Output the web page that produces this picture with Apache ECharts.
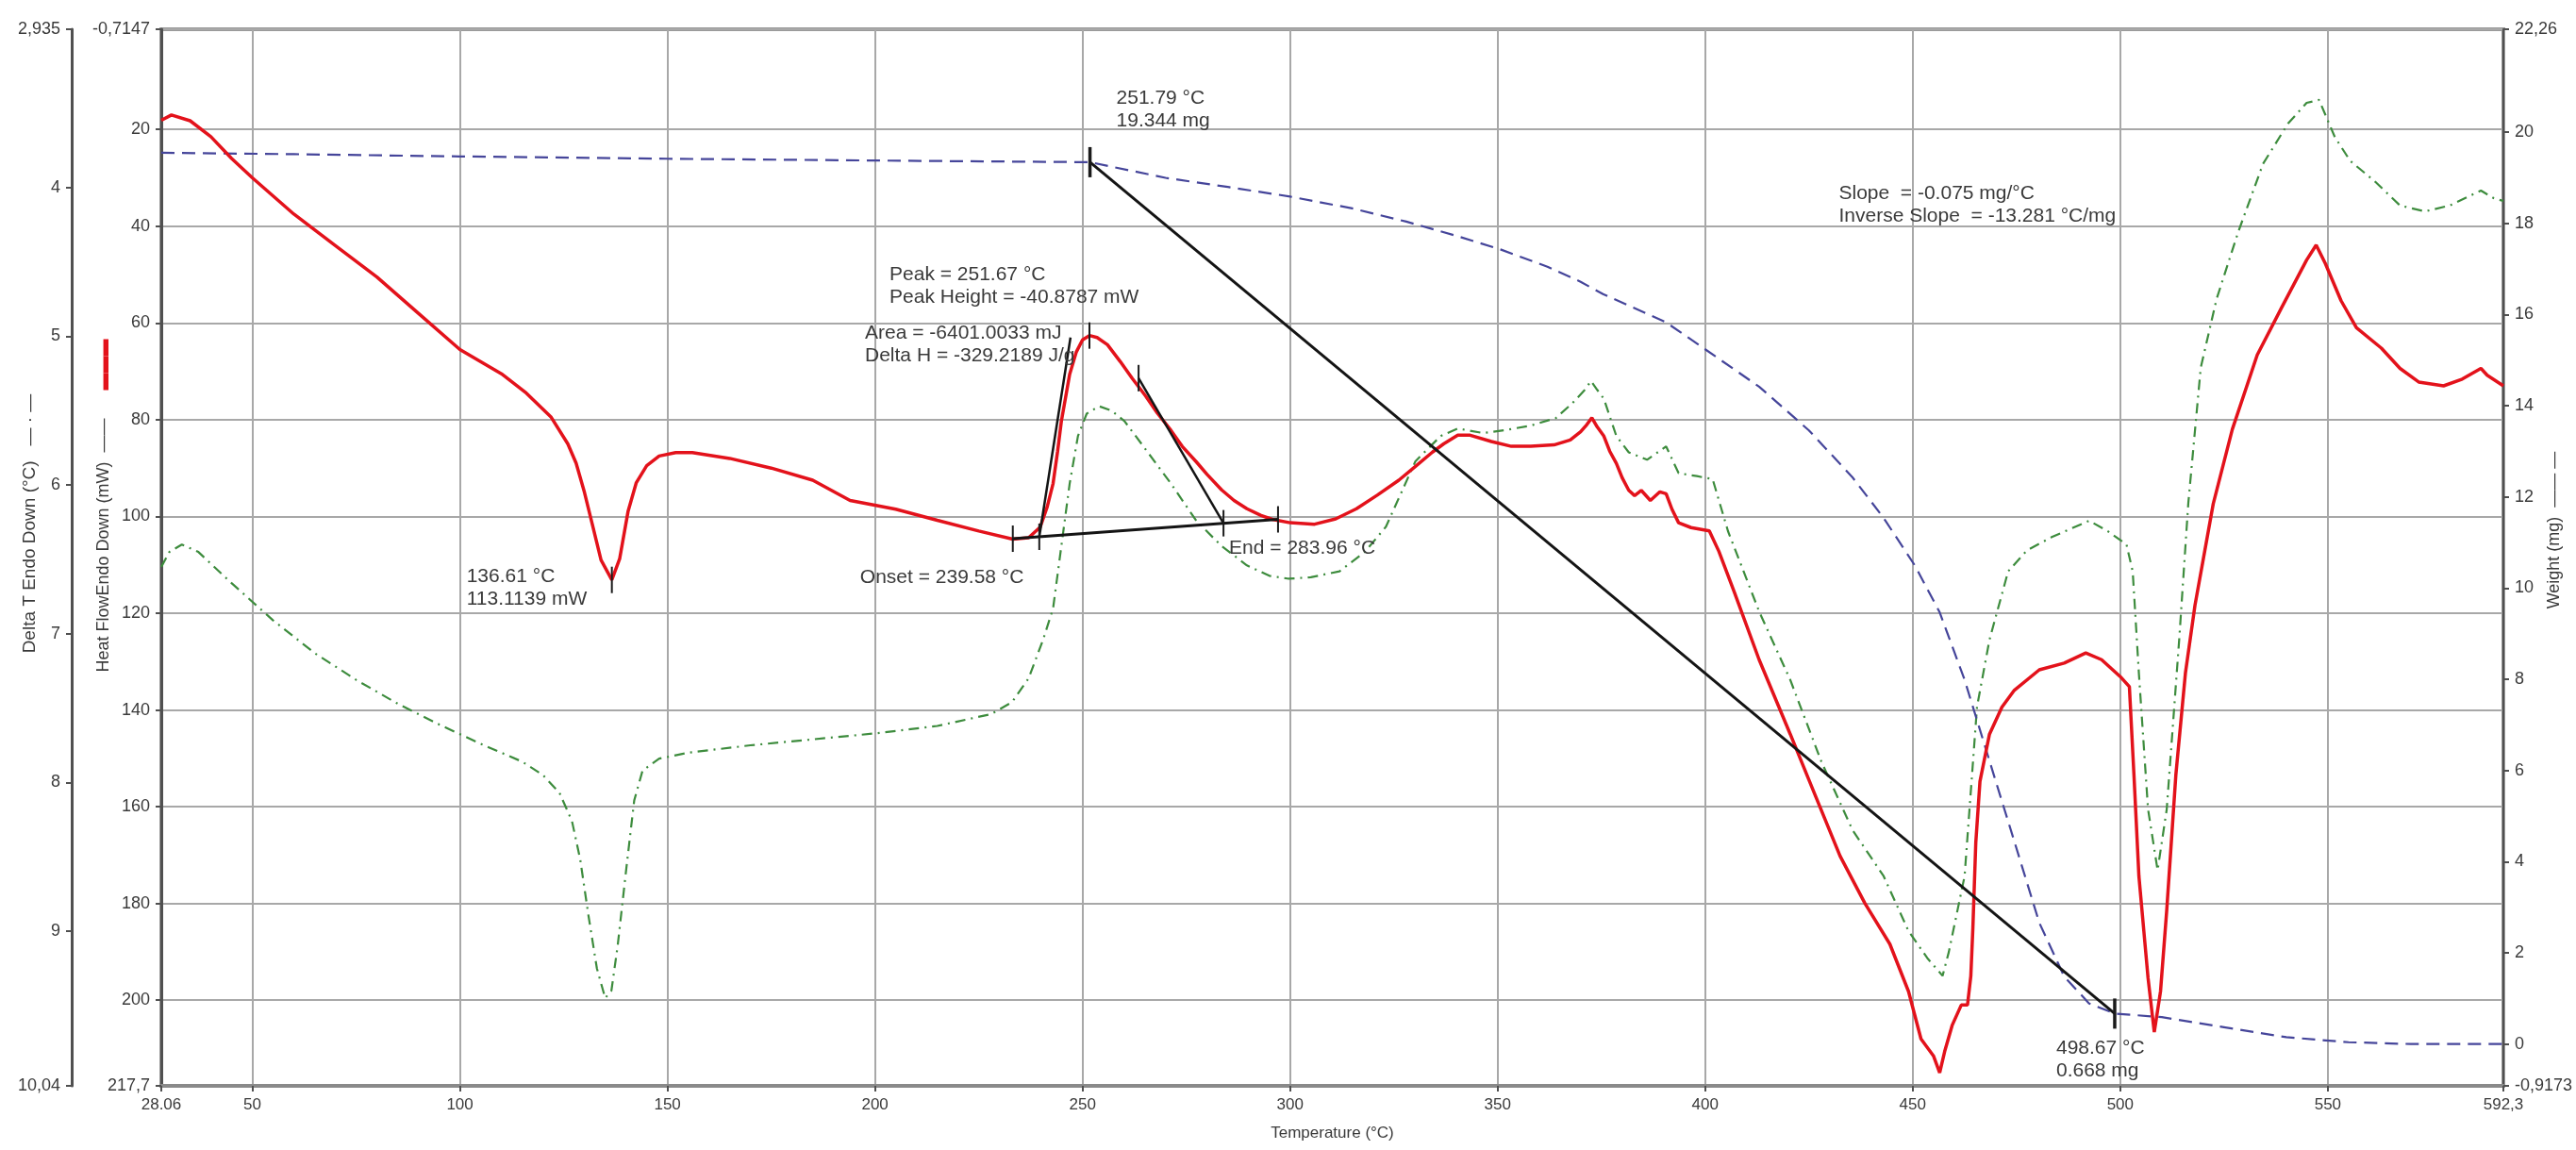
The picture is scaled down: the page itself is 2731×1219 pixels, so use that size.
<!DOCTYPE html>
<html>
<head>
<meta charset="utf-8">
<script src="https://cdn.jsdelivr.net/npm/echarts@6/dist/echarts.min.js"></script>
<style>
html,body{margin:0;padding:0;background:#fff;}
#chart{width:2731px;height:1219px;}
</style>
</head>
<body>
<div id="chart"></div>
<script>
// ---------- axis ranges / tick values / tick labels ----------
const xRange = [28.06, 592.3];
const hfRange = [-0.7147, 217.7];
const dtRange = [2.935, 10.04];
const wRange = [-0.9173, 22.26];
const xTicks = [28.06, 50, 100, 150, 200, 250, 300, 350, 400, 450, 500, 550, 592.3];
const hfTicks = [-0.7147, 20, 40, 60, 80, 100, 120, 140, 160, 180, 200, 217.7];
const dtTicks = [2.935, 4, 5, 6, 7, 8, 9, 10.04];
const wTicks = [-0.9173, 0, 2, 4, 6, 8, 10, 12, 14, 16, 18, 20, 22.26];
const xEndLabels = ['28.06', '592,3'];
const hfEndLabels = ['-0,7147', '217,7'];
const dtEndLabels = ['2,935', '10,04'];
const wEndLabels = ['-0,9173', '22,26'];

// ---------- series: [temperature °C, value] ----------
const heatFlow = [
 [28.06,18.1],[30.5,17.0],[35,18.2],[40,21.5],[45,26],[50,30],[60,37.5],[70,44],[80,50.5],[90,58],
 [100,65.5],[110,70.5],[116,74.5],[122,79.5],[126,85],[128,89],[130,95],[132,102],[134,109],[136.6,113.1],
 [138.5,108.7],[140.5,99],[142.5,93],[145,89.5],[148,87.5],[152,86.8],[156,86.8],[165,88],[175,90],[185,92.5],
 [194,96.7],[205,98.5],[215,100.8],[225,103],[233.2,104.7],[237,104.4],[239.8,102.2],[241.5,98],[242.9,93.2],[244,86.5],
 [244.9,80.3],[246,75],[246.9,70.6],[248.5,66],[250,63.5],[251.67,62.6],[253.5,63],[256,64.5],[259.1,68.0],[262,71.5],
 [265.2,75.1],[268,78.6],[271.3,82.2],[274,85.5],[277.4,88.7],[280,91.3],[283.5,94.5],[286.5,96.7],[289.6,98.4],[293,99.8],
 [295.7,100.6],[300,101.3],[305.9,101.6],[311,100.5],[316,98.4],[321,95.6],[326.2,92.5],[330,89.8],[334.3,86.7],[337,85],
 [340.4,83.2],[343.4,83.2],[348.5,84.5],[353.3,85.5],[358,85.5],[363.6,85.2],[367.5,84.2],[370,82.5],[371.5,81],[372.7,79.6],
 [374,81.5],[375.6,83.4],[377,86.5],[378.6,89],[380,92],[381.6,94.6],[383,95.7],[384.6,94.6],[386.8,96.7],[389.1,94.9],
 [390.6,95.3],[392,98.5],[393.6,101.3],[396.6,102.3],[401,103],[403.3,107.2],[407,115.6],[413,129.6],[420.5,145],[426.5,157.6],
 [432.5,170.2],[438.5,180],[444.5,188.4],[449,198.2],[452,208],[455,211.5],[456.5,215],[457.7,210.6],[459.5,205.2],[461.7,201],
 [463.2,201],[464,195],[464.5,185],[465.2,167.4],[466.2,154.8],[468.5,145],[471.5,139.4],[474.5,135.9],[480.5,131.7],[486.5,130.3],
 [491.7,128.2],[495.5,129.6],[500,133.1],[502.2,135.2],[503.3,153.4],[504.5,174.4],[506.7,195.4],[508.2,206.6],[509.7,198.2],[511.2,181.4],
 [513.4,153.4],[515.7,132.4],[518,118.4],[522.4,97.4],[527,82],[533,66.6],[538.9,56.8],[544.9,47],[547.2,43.9],[549.4,47.7],
 [553.2,55.4],[556.9,61],[562.9,65.2],[567.4,69.4],[571.9,72.2],[577.9,73],[582.4,71.6],[586.9,69.4],[588.4,70.8],[592.3,73]
];

const deltaT = [
 [28.06,6.55],[30,6.45],[33,6.40],[37,6.45],[45,6.66],[55,6.91],[65,7.13],[75,7.31],[85,7.47],[95,7.61],
 [105,7.74],[115,7.86],[120,7.95],[124,8.07],[127,8.26],[129,8.52],[131,8.9],[133,9.25],[135,9.45],[136.5,9.4],
 [138,9.1],[140,8.6],[142,8.12],[144,7.92],[148,7.84],[155,7.8],[170,7.75],[185,7.71],[200,7.67],[215,7.62],
 [228,7.54],[233,7.46],[237,7.3],[240.5,7.04],[242.9,6.83],[244.9,6.41],[246.9,5.99],[248.9,5.67],[251,5.52],[254,5.47],
 [257,5.5],[260.1,5.57],[265.2,5.76],[271.3,5.99],[277.4,6.24],[283.5,6.41],[289.6,6.54],[295,6.61],[299.7,6.63],[305,6.62],
 [311.9,6.58],[318,6.45],[323.1,6.28],[326,6.1],[330.2,5.84],[336.3,5.67],[340.4,5.62],[346.5,5.65],[352,5.63],[358,5.6],
 [364,5.55],[368,5.45],[371,5.36],[372.5,5.3],[374,5.36],[375.6,5.42],[378.6,5.67],[381.6,5.78],[386,5.83],[390.6,5.74],
 [393.6,5.92],[398,5.94],[401.8,5.96],[405.5,6.31],[413,6.85],[420.5,7.31],[428,7.86],[435.5,8.32],[443,8.63],[449,9.0],
 [453.5,9.18],[457.2,9.30],[458.7,9.14],[462.5,8.63],[465.5,7.49],[468.5,7.04],[473,6.58],[477.5,6.44],[483.5,6.35],[492.5,6.24],
 [497,6.31],[501.5,6.40],[503,6.58],[504.5,7.27],[506.7,8.18],[509,8.59],[511.2,8.18],[514.2,7.04],[516.4,6.12],[519.4,5.21],
 [523.2,4.75],[528.4,4.30],[534.4,3.84],[540.4,3.57],[544.9,3.43],[547.9,3.41],[551.7,3.66],[555.4,3.82],[561.4,3.96],[567.4,4.12],
 [573.4,4.16],[579.4,4.12],[586.9,4.02],[589.9,4.07],[592.3,4.09]
];

const weight = [
 [28.06,19.55],[60,19.52],[100,19.47],[150,19.42],[200,19.38],[251.79,19.344],[270,19.0],[285,18.8],[300,18.59],[315,18.33],
 [328,18.04],[340,17.73],[351,17.42],[362,17.05],[370,16.72],[375.4,16.45],[390.6,15.83],[400,15.24],[413,14.42],[425,13.46],
 [435.5,12.43],[443,11.54],[450.5,10.50],[456.5,9.47],[462.5,7.99],[468.5,6.21],[474.5,4.44],[480.5,2.66],[486.5,1.48],[492.5,0.89],
 [498.67,0.668],[510,0.59],[525,0.37],[540,0.15],[555,0.04],[570,0],[592.3,0]
];

// analysis constructions
const weightStep = [[251.79,19.344],[498.67,0.668]];
const peakBaseline = [[233.2,104.6],[297.1,100.6]];
const onsetTangent = [[239.58,104.2],[247.1,63.0]];
const endTangent = [[263.5,71.4],[283.96,101.4]];
const hfMarkers = [[233.2,104.6],[239.58,104.2],[251.67,62.6],[263.5,71.4],[283.96,101.4],[297.1,100.6],[136.61,113.1139]];
const wMarkers = [[251.79,19.344],[498.67,0.668]];

// annotation anchors (value) and texts
const hfNotes = [
 [136.61,113.1139,'136.61 °C\n113.1139 mW'],
 [251.67,62.3,'Peak = 251.67 °C\nPeak Height = -40.8787 mW'],
 [251.67,62.3,'Area = -6401.0033 mJ\nDelta H = -329.2189 J/g'],
 [239.58,104.2,'Onset = 239.58 °C'],
 [283.96,101.4,'End = 283.96 °C']
];
const wNotes = [
 [251.79,19.344,'251.79 °C\n19.344 mg'],
 [498.67,0.668,'498.67 °C\n0.668 mg'],
 [432.2,18.83,'Slope  = -0.075 mg/°C\nInverse Slope  = -13.281 °C/mg']
];
// pixel offsets of the annotation text boxes (style, not data)
const hfNoteOffsets = [[-154,-15],[-212,-75],[-238,-13],[-190,31],[6,15]];
const wNoteOffsets = [[28,-80],[-62,25],[0,-4]];

const FONT = '"Liberation Sans", Arial, sans-serif';
const TXT = '#3a3a3a';

function endFmt(range, labels) {
  return function (v) {
    if (Math.abs(v - range[0]) < 1e-6) return labels[0];
    if (Math.abs(v - range[1]) < 1e-6) return labels[1];
    return String(Math.round(v));
  };
}

function tickRenderer(half, width) {
  return function (params, api) {
    const p = api.coord([api.value(0), api.value(1)]);
    return {type:'line', shape:{x1:p[0], y1:p[1]-half, x2:p[0], y2:p[1]+half},
            style:{stroke:'#1a1a1a', lineWidth:width}};
  };
}
function noteRenderer(notes, offsets) {
  return function (params, api) {
    const i = params.dataIndex;
    const p = api.coord([api.value(0), api.value(1)]);
    return {type:'text', x:p[0]+offsets[i][0], y:p[1]+offsets[i][1],
      style:{text:notes[i][2], fill:TXT, fontSize:21, fontFamily:FONT, lineHeight:24, verticalAlign:'top', align:'left'}};
  };
}

const axisLineStyle = {color:'#505050', width:3};
const tickStyle = {show:true, length:6, lineStyle:{color:'#505050', width:2}};

const chart = echarts.init(document.getElementById('chart'), null, {renderer:'canvas'});
chart.setOption({
  animation:false,
  backgroundColor:'#ffffff',
  grid:{left:171, right:77, top:31, bottom:68, containLabel:false, outerBoundsMode:'none',
        show:true, borderColor:'#9a9a9a', borderWidth:4, backgroundColor:'#ffffff'},
  xAxis:{
    type:'value', min:xRange[0], max:xRange[1],
    name:'Temperature (°C)', nameLocation:'middle', nameGap:42, nameMoveOverlap:false,
    nameTextStyle:{fontFamily:FONT, fontSize:17, color:TXT},
    axisLine:{onZero:false, lineStyle:{color:'#8a8a8a', width:4}},
    axisTick:Object.assign({customValues:xTicks}, tickStyle),
    axisLabel:{customValues:xTicks, formatter:endFmt(xRange, xEndLabels), fontFamily:FONT, fontSize:17, color:TXT, margin:12},
    splitLine:{show:true, lineStyle:{color:'#a8a8a8', width:2}}
  },
  yAxis:[
    { // Heat flow
      type:'value', inverse:true, min:hfRange[0], max:hfRange[1], position:'left',
      name:'{b|Heat FlowEndo Down (mW)  ——}      {r|▬▬▬}', nameLocation:'middle', nameRotate:90, nameGap:52, nameMoveOverlap:false,
      nameTextStyle:{fontFamily:FONT, fontSize:18, color:TXT, padding:[0,0,0,110],
        rich:{b:{fontFamily:FONT, fontSize:18, color:TXT}, r:{fontFamily:FONT, fontSize:18, color:'#e3121b'}}},
      axisLine:{show:true, onZero:false, lineStyle:axisLineStyle},
      axisTick:Object.assign({customValues:hfTicks}, tickStyle),
      axisLabel:{customValues:hfTicks, formatter:endFmt(hfRange, hfEndLabels), fontFamily:FONT, fontSize:18, color:TXT, margin:12},
      splitLine:{show:true, lineStyle:{color:'#a8a8a8', width:2}}
    },
    { // Delta T
      type:'value', inverse:true, min:dtRange[0], max:dtRange[1], position:'left', offset:95,
      name:'Delta T Endo Down (°C)   — · —', nameLocation:'middle', nameRotate:90, nameGap:35, nameMoveOverlap:false,
      nameTextStyle:{fontFamily:FONT, fontSize:19, color:TXT, padding:[0,0,0,72]},
      axisLine:{show:true, onZero:false, lineStyle:axisLineStyle},
      axisTick:Object.assign({customValues:dtTicks}, tickStyle),
      axisLabel:{customValues:dtTicks, formatter:endFmt(dtRange, dtEndLabels), fontFamily:FONT, fontSize:18, color:TXT, margin:12},
      splitLine:{show:false}
    },
    { // Weight
      type:'value', min:wRange[0], max:wRange[1], position:'right',
      name:'Weight (mg)  —— —', nameLocation:'middle', nameRotate:90, nameGap:45, nameMoveOverlap:false,
      nameTextStyle:{fontFamily:FONT, fontSize:18, color:TXT, padding:[0,0,0,58]},
      axisLine:{show:true, onZero:false, lineStyle:{color:'#505050', width:2}},
      axisTick:Object.assign({customValues:wTicks}, tickStyle),
      axisLabel:{customValues:wTicks, formatter:endFmt(wRange, wEndLabels), fontFamily:FONT, fontSize:18, color:TXT, margin:12},
      splitLine:{show:false}
    }
  ],
  series:[
    {name:'Delta T', type:'line', yAxisIndex:1, data:deltaT, showSymbol:false, z:2,
     lineStyle:{color:'#3d8c3d', width:2.2, type:[11,6,2,6]}},
    {name:'Weight', type:'line', yAxisIndex:2, data:weight, showSymbol:false, z:3,
     lineStyle:{color:'#45459a', width:2.2, type:[14,8]}},
    {name:'Heat Flow', type:'line', yAxisIndex:0, data:heatFlow, showSymbol:false, z:4,
     lineStyle:{color:'#e3121b', width:3.5}},
    {name:'Weight step', type:'line', yAxisIndex:2, data:weightStep, showSymbol:false, z:5,
     lineStyle:{color:'#141414', width:3}},
    {name:'Baseline', type:'line', yAxisIndex:0, data:peakBaseline, showSymbol:false, z:5,
     lineStyle:{color:'#141414', width:3}},
    {name:'Onset tangent', type:'line', yAxisIndex:0, data:onsetTangent, showSymbol:false, z:5,
     lineStyle:{color:'#141414', width:2.5}},
    {name:'End tangent', type:'line', yAxisIndex:0, data:endTangent, showSymbol:false, z:5,
     lineStyle:{color:'#141414', width:2.5}},
    {name:'HF ticks', type:'custom', yAxisIndex:0, data:hfMarkers, z:6, renderItem:tickRenderer(14, 2)},
    {name:'W ticks', type:'custom', yAxisIndex:2, data:wMarkers, z:6, renderItem:tickRenderer(16, 3.5)},
    {name:'HF notes', type:'custom', yAxisIndex:0, data:hfNotes.map(n => [n[0], n[1]]), z:7, renderItem:noteRenderer(hfNotes, hfNoteOffsets)},
    {name:'W notes', type:'custom', yAxisIndex:2, data:wNotes.map(n => [n[0], n[1]]), z:7, renderItem:noteRenderer(wNotes, wNoteOffsets)}
  ]
});
</script>
</body>
</html>
